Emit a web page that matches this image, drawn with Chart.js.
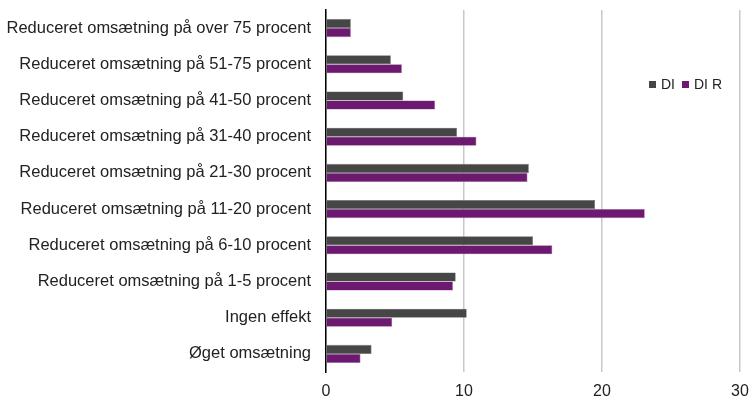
<!DOCTYPE html>
<html lang="da">
<head>
<meta charset="UTF-8">
<script src="https://cdn.jsdelivr.net/npm/chart.js"></script>
<title>Omsætning</title>
<style>
  html, body { margin: 0; padding: 0; background: #fff; overflow: hidden; }
  #wrap { position: relative; width: 760px; height: 400px; }
  #legend { position: absolute; left: 649px; top: 76px; font: 14px "Liberation Sans", Arial, sans-serif; color: #222; white-space: nowrap; }
  #legend span.box { display: inline-block; width: 7px; height: 7px; margin-right: 5px; vertical-align: 1px; }
  #legend span.item { margin-right: 7px; }
</style>
</head>
<body>
<div id="wrap">
  <canvas id="chart" width="760" height="400"></canvas>
  <div id="legend">
    <span class="item"><span class="box" style="background:#464646"></span>DI</span><span class="item"><span class="box" style="background:#6b1a70"></span>DI R</span>
  </div>
</div>
<script>
const categories = [
  'Reduceret omsætning på over 75 procent',
  'Reduceret omsætning på 51-75 procent',
  'Reduceret omsætning på 41-50 procent',
  'Reduceret omsætning på 31-40 procent',
  'Reduceret omsætning på 21-30 procent',
  'Reduceret omsætning på 11-20 procent',
  'Reduceret omsætning på 6-10 procent',
  'Reduceret omsætning på 1-5 procent',
  'Ingen effekt',
  'Øget omsætning'
];
const diValues  = [1.8, 4.7, 5.6, 9.5, 14.7, 19.5, 15.0, 9.4, 10.2, 3.3];
const diRValues = [1.8, 5.5, 7.9, 10.9, 14.6, 23.1, 16.4, 9.2, 4.8, 2.5];
const xTicks = [0, 10, 20, 30];

const yFont = { family: '"Liberation Sans", Arial, sans-serif', size: 16.5 };
const xFont = { family: '"Liberation Sans", Arial, sans-serif', size: 16 };

new Chart(document.getElementById('chart'), {
  type: 'bar',
  data: {
    labels: categories,
    datasets: [
      { label: 'DI', data: diValues, backgroundColor: '#464646', borderColor: '#6e6e6e', borderWidth: 0.6 },
      { label: 'DI R', data: diRValues, backgroundColor: '#6b1a70', borderColor: '#9a5a9e', borderWidth: 0.6 }
    ]
  },
  options: {
    indexAxis: 'y',
    responsive: false,
    animation: false,
    layout: { padding: { top: 10, right: 20, left: 0, bottom: 0 } },
    datasets: { bar: { categoryPercentage: 0.5, barPercentage: 1 } },
    plugins: { legend: { display: false }, tooltip: { enabled: false } },
    scales: {
      x: {
        min: 0, max: 30,
        afterBuildTicks: s => { s.ticks = xTicks.map(v => ({ value: v })); },
        afterFit: s => { s.height = 28; s.paddingLeft = 0; s.paddingRight = 0; },
        grid: { color: '#c8c8c8', lineWidth: 1.5, drawTicks: false, drawOnChartArea: true },
        border: { display: false },
        ticks: { font: xFont, color: '#222', padding: 10 }
      },
      y: {
        afterFit: s => { s.width = 326; s.paddingTop = 0; s.paddingBottom = 0; },
        grid: { display: false },
        border: { display: true, color: '#000', width: 1.5 },
        ticks: { font: yFont, color: '#222', padding: 7 }
      }
    }
  }
});
</script>
</body>
</html>
